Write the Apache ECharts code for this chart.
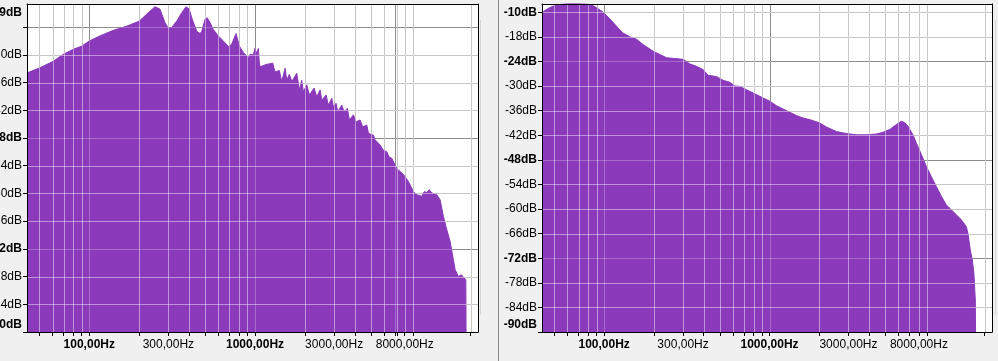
<!DOCTYPE html>
<html><head><meta charset="utf-8">
<script src="https://cdn.jsdelivr.net/npm/echarts@6/dist/echarts.min.js"></script>
<style>html,body{margin:0;padding:0;background:#f0f0f0;}#c{width:998px;height:361px;}</style>
</head><body><div id="c"></div>
<script>
// ---- axis ranges / ticks ----
const FREQ_MIN = 42.1, FREQ_MAX = 22130;
const X_LABEL_FREQS = [100, 300, 1000, 3000, 8000];
const X_BOLD_FREQS = [100, 1000];
const LEFT_GRID_FREQS = [50,60,70,80,90,100,200,300,400,500,600,700,800,900,1000,2000,3000,4000,5000,6000,7000,7200,8000,9000,20000];
const LEFT_MAJOR_FREQS = [100, 1000, 7000];
const RIGHT_GRID_FREQS = [50,60,70,80,90,100,200,300,400,500,600,700,800,900,1000,2000,3000,4000,5000,6000,7000,8000,9000,20000];
const RIGHT_MAJOR_FREQS = [100, 1000];
const LEFT_DB_RANGE = [-90, -19];
const RIGHT_DB_RANGE = [-90, -10];
const LEFT_DB_GRID = [-84,-78,-72,-66,-60,-54,-48,-42,-36,-30,-24];
const RIGHT_DB_GRID = [-84,-78,-72,-66,-60,-54,-48,-42,-36,-30,-24,-18,-12];
const LEFT_DB_LABELS = [-90,-84,-78,-72,-66,-60,-54,-48,-42,-36,-30,-19];
const RIGHT_DB_LABELS = [-90,-84,-78,-72,-66,-60,-54,-48,-42,-36,-30,-24,-18,-10];
const MAJOR_DB = [-72,-48,-24];
const BOLD_DB = [-90,-72,-48,-24,-19,-10];

// ---- spectrum data (Hz, dB) ----
const leftFreqs = [42.3,50.4,60.6,69.7,80.1,90.3,100,116,139.6,168.2,200.4,222,249,255,267,286,300,314,337,361,383,401,415,445,466,477,499,515,535,560,600,644,690,723,768,804,850,911,933,975,1000,1024,1047,1060,1072,1165,1279,1320,1402,1449,1518,1554,1611,1666,1785,1851,1913,1957,2051,2127,2270,2357,2468,2527,2683,2770,2904,2969,3082,3156,3337,3444,3606,3708,3920,4069,4302,4467,4722,4829,5176,5299,5680,5924,6234,6437,6683,7165,7852,8418,9023,9460,10140,10500,10870,11250,11650,12490,13080,13690,14360,15030,15730,16110,16870,17500,18080,18690,18800];
const leftDb = [-33.9,-32.8,-31.4,-29.9,-28.8,-28.1,-27.0,-25.9,-24.7,-23.8,-22.7,-21.2,-19.6,-19.4,-20.1,-23.0,-24.3,-24.1,-22.7,-20.9,-19.6,-20.1,-22.0,-24.9,-25.4,-24.9,-22.3,-22.0,-23.0,-24.5,-25.9,-27.0,-28.2,-27.7,-25.4,-28.1,-29.5,-30.6,-29.9,-30.0,-28.6,-29.8,-28.6,-31.5,-32.6,-32.1,-31.8,-33.7,-33.4,-35.8,-32.9,-35.5,-34.2,-35.8,-34.0,-37.6,-35.5,-38.0,-36.5,-38.7,-37.2,-39.1,-37.6,-39.8,-38.7,-40.9,-39.4,-41.2,-40.5,-42.3,-40.9,-42.3,-41.6,-44.1,-43.0,-44.5,-44.1,-45.6,-45.2,-47.0,-47.4,-48.4,-49.5,-50.6,-51.0,-52.1,-52.4,-54.6,-55.9,-57.4,-59.6,-60.3,-60.6,-59.6,-59.8,-59.2,-59.9,-60.3,-61.4,-65.0,-67.9,-70.4,-74.4,-76.5,-78.0,-77.6,-78.1,-78.7,-100];
const rightFreqs = [42.2,45.9,49.2,54.0,59.3,68.1,78.3,83.9,90.0,98.6,108.2,118.8,129.2,143.0,157.0,172.1,197.7,217.1,238.3,267.4,300.1,329.5,361.6,396.5,425,477.9,523.6,574.8,616.4,660.6,725.1,759.3,833.4,913.3,1002.7,1101,1207,1325,1454,1594,1750,2011,2207,2537,2915,3351,3851,4425,4851,5325,5847,6266,6561,6870,7362,7720,8278,8872,9511,10197,10931,11719,12563,13467,14437,15478,15827,16364,16826,17204,17543,17690];
const rightDb = [-12.0,-11.1,-10.5,-10.1,-9.9,-9.9,-10.0,-10.2,-10.9,-12.0,-13.6,-15.4,-17.0,-18.0,-18.6,-19.9,-21.5,-22.3,-23.1,-23.3,-23.5,-24.6,-25.2,-26.0,-27.4,-27.7,-28.6,-29.1,-30.0,-30.1,-30.9,-31.3,-32.1,-32.9,-33.7,-34.8,-35.6,-36.4,-37.2,-37.8,-38.2,-39.0,-40.0,-41.1,-41.6,-41.9,-41.9,-41.7,-41.3,-40.6,-39.4,-38.6,-38.9,-39.8,-41.9,-43.9,-46.7,-49.6,-52.1,-54.5,-56.9,-59.0,-60.2,-61.4,-62.6,-64.3,-65.9,-70.0,-72.4,-75.7,-82.2,-100];

const PURPLE = '#8a3aba';
const FONT = "'Liberation Sans', Arial, sans-serif";
const lg = Math.log10;

const UNDER = {minor: '#9a9a9a', major: '#666666'};
const OVER = {minor: 'rgba(255,255,255,0.45)', major: 'rgba(255,255,255,0.25)'};

function vRender(colors) {
  return function (params, api) {
    const cs = params.coordSys;
    const p = api.coord([api.value(0), api.value(1)]);
    const x = Math.round(p[0]) + 0.5;
    return {type: 'line', shape: {x1: x, y1: cs.y, x2: x, y2: cs.y + cs.height},
      style: {stroke: api.value(2) ? colors.major : colors.minor, lineWidth: 1}};
  };
}
function hRender(colors) {
  return function (params, api) {
    const cs = params.coordSys;
    const p = api.coord([api.value(0), api.value(1)]);
    const y = Math.round(p[1]) + 0.5;
    return {type: 'line', shape: {x1: cs.x, y1: y, x2: cs.x + cs.width, y2: y},
      style: {stroke: api.value(2) ? colors.major : colors.minor, lineWidth: 1}};
  };
}

const xAxes = [], yAxes = [], series = [];
const grids = [
  {left: 27, top: 4, width: 451, height: 328, show: true, backgroundColor: '#fff', borderWidth: 0, outerBoundsMode: 'none', containLabel: false},
  {left: 542, top: 4, width: 450, height: 328, show: true, backgroundColor: '#fff', borderWidth: 0, outerBoundsMode: 'none', containLabel: false}
];
const panels = [
  {gridFreqs: LEFT_GRID_FREQS, majorFreqs: LEFT_MAJOR_FREQS, range: LEFT_DB_RANGE, dbGrid: LEFT_DB_GRID, dbLabels: LEFT_DB_LABELS, freqs: leftFreqs, dbs: leftDb},
  {gridFreqs: RIGHT_GRID_FREQS, majorFreqs: RIGHT_MAJOR_FREQS, range: RIGHT_DB_RANGE, dbGrid: RIGHT_DB_GRID, dbLabels: RIGHT_DB_LABELS, freqs: rightFreqs, dbs: rightDb}
];

panels.forEach((P, g) => {
  const xi = xAxes.length, yi = yAxes.length;
  xAxes.push({
    type: 'value', gridIndex: g, min: lg(FREQ_MIN), max: lg(FREQ_MAX), z: 5,
    axisLine: {show: true, onZero: false, lineStyle: {color: '#000', width: 1}},
    axisTick: {show: true, length: 4, lineStyle: {color: '#000'}, customValues: P.gridFreqs.map(lg)},
    axisLabel: {
      customValues: X_LABEL_FREQS.map(lg), margin: 7, fontSize: 12, fontFamily: FONT, color: '#000',
      showMinLabel: true, showMaxLabel: true,
      formatter: v => { const f = Math.round(Math.pow(10, v)); const t = f + ',00Hz'; return X_BOLD_FREQS.includes(f) ? '{b|' + t + '}' : t; },
      rich: {b: {fontWeight: 'bold', fontSize: 12, fontFamily: FONT, color: '#000'}}
    },
    splitLine: {show: false}
  });
  xAxes.push({
    type: 'value', gridIndex: g, position: 'top', min: lg(FREQ_MIN), max: lg(FREQ_MAX), z: 5,
    axisLine: {show: true, onZero: false, lineStyle: {color: '#000', width: 1}},
    axisTick: {show: false}, axisLabel: {show: false}, splitLine: {show: false}
  });
  yAxes.push({
    type: 'value', gridIndex: g, min: P.range[0], max: P.range[1], interval: 6, z: 5,
    axisLine: {show: true, onZero: false, lineStyle: {color: '#000', width: 1}},
    axisTick: {show: true, length: 4, lineStyle: {color: '#000'}, customValues: [P.range[0]].concat(P.dbGrid)},
    axisLabel: {
      customValues: P.dbLabels, margin: 5, fontSize: 12, fontFamily: FONT, color: '#000',
      showMinLabel: true, showMaxLabel: true,
      formatter: v => {
        const t = v + 'dB';
        if (v === P.range[1]) return '{tb|' + t + '}';
        if (v === P.range[0]) return '{bb|' + t + '}';
        if (BOLD_DB.includes(v)) return '{b|' + t + '}';
        return t;
      },
      rich: {
        b: {fontWeight: 'bold', fontSize: 12, fontFamily: FONT, color: '#000'},
        tb: {fontWeight: 'bold', fontSize: 12, fontFamily: FONT, color: '#000', padding: [17, 0, 0, 0]},
        bb: {fontWeight: 'bold', fontSize: 12, fontFamily: FONT, color: '#000', padding: [0, 0, 14, 0]}
      }
    },
    splitLine: {show: false}
  });
  yAxes.push({
    type: 'value', gridIndex: g, position: 'right', min: P.range[0], max: P.range[1], z: 5,
    axisLine: {show: true, onZero: false, lineStyle: {color: '#000', width: 1}},
    axisTick: {show: false}, axisLabel: {show: false}, splitLine: {show: false}
  });

  const vData = P.gridFreqs.map(f => [lg(f), P.range[0], P.majorFreqs.includes(f) ? 1 : 0]);
  const hData = P.dbGrid.map(d => [lg(FREQ_MIN), d, MAJOR_DB.includes(d) ? 1 : 0]);
  const common = {type: 'custom', xAxisIndex: xi, yAxisIndex: yi, silent: true, encode: {x: 0, y: 1}};
  series.push(Object.assign({}, common, {z: 1, data: vData, renderItem: vRender(UNDER)}));
  series.push(Object.assign({}, common, {z: 1, data: hData, renderItem: hRender(UNDER)}));
  series.push({
    type: 'line', xAxisIndex: xi, yAxisIndex: yi, z: 2, silent: true, clip: true,
    symbol: 'none', showSymbol: false,
    data: P.freqs.map((f, i) => [lg(f), P.dbs[i]]),
    lineStyle: {color: PURPLE, width: 1},
    areaStyle: {color: PURPLE, opacity: 1, origin: 'start'}
  });
  series.push(Object.assign({}, common, {z: 3, data: vData, renderItem: vRender(OVER)}));
  series.push(Object.assign({}, common, {z: 3, data: hData, renderItem: hRender(OVER)}));
});

const chart = echarts.init(document.getElementById('c'), null, {renderer: 'canvas'});
chart.setOption({
  backgroundColor: '#f0f0f0',
  animation: false,
  grid: grids,
  xAxis: xAxes,
  yAxis: yAxes,
  series: series,
  graphic: [
    {type: 'line', silent: true, shape: {x1: 498.5, y1: 0, x2: 498.5, y2: 361}, style: {stroke: '#8a8a8a', lineWidth: 1}},
    {type: 'line', silent: true, shape: {x1: 480.5, y1: 20, x2: 480.5, y2: 315}, style: {stroke: '#d4d4d4', lineWidth: 1}},
    {type: 'line', silent: true, shape: {x1: 995.5, y1: 20, x2: 995.5, y2: 315}, style: {stroke: '#d4d4d4', lineWidth: 1}}
  ]
});
</script></body></html>
